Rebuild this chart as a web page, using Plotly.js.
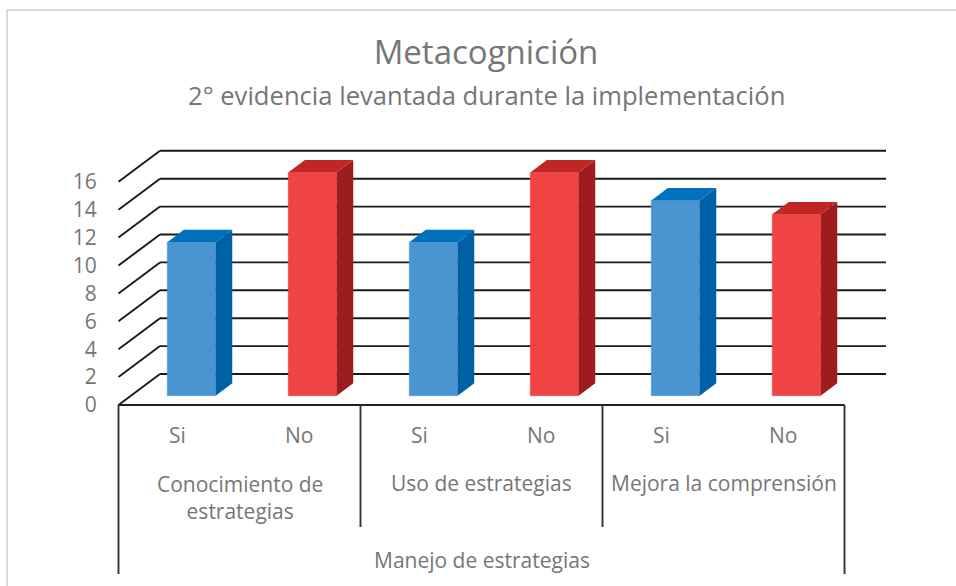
<!DOCTYPE html>
<html><head><meta charset="utf-8">
<script src="https://cdn.plot.ly/plotly-3.0.1.min.js"></script>
<style>html,body{margin:0;padding:0;background:#fff}#c{width:956px;height:586px}</style>
</head><body><div id="c"></div>
<script>
const subLabels = ['Si','No','Si','No','Si','No'];
const values = [11,16,11,16,14,13];
const groupLabels = ['Conocimiento de<br>estrategias','Uso de estrategias','Mejora la comprensión'];
const topLabel = 'Manejo de estrategias';
const yTicks = [0,2,4,6,8,10,12,14,16];
const titleText = 'Metacognición';
const subtitleText = '2° evidencia levantada durante la implementación';

const W=956,H=586,L=112,R=950;
const X0=118.5,CW=121,Y0=405,UY=13.95;
const px=v=>(v-X0)/CW, py=v=>(Y0-v)/UY;
const DX=41.5/CW, DY=31/UY;           // full floor depth in data units
const GAP=0.3, BD=0.4, BW=0.4;        // bar placement within depth / category
const BLUE='#4A94D2',BLUE_T='#0071BC',BLUE_S='#0060A6';
const RED='#F04444',RED_T='#C02626',RED_S='#9C1C1F';
const fronts=values.map((v,i)=>i%2?RED:BLUE);
const centers=values.map((v,i)=>i+0.5+GAP*DX);
const base=GAP*DY;

const shapes=[];
const line=(x0,y0,x1,y1,color,width)=>shapes.push({type:'line',xref:'x',yref:'y',x0,y0,x1,y1,layer:'below',line:{color,width}});
yTicks.forEach(v=>{
  line(0,v,DX,v+DY,'#1a1a1a',1.9);
  line(DX,v+DY,px(886),v+DY,'#1a1a1a',1.9);
});
line(0,0,6,0,'#222',1.9);
[0,2,4,6].forEach(i=>line(i,0,i,py((i===0||i===6)?574:527),'#333',1.9));

const traces=[{
  type:'bar',x:centers,y:values,base:values.map(()=>base),width:values.map(()=>BW),
  marker:{color:fronts,line:{color:fronts,width:0.5}},showlegend:false,hoverinfo:'y'
}];
values.forEach((v,i)=>{
  const xl=centers[i]-BW/2,xr=centers[i]+BW/2,yb=base,yt=base+v,ddx=BD*DX,ddy=BD*DY;
  traces.push({type:'scatter',mode:'lines',x:[xr,xr+ddx,xr+ddx,xr,xr],y:[yb,yb+ddy,yt+ddy,yt,yb],fill:'toself',
    fillcolor:i%2?RED_S:BLUE_S,line:{width:0},showlegend:false,hoverinfo:'skip'});
  traces.push({type:'scatter',mode:'lines',x:[xl,xr,xr+ddx,xl+ddx,xl],y:[yt,yt,yt+ddy,yt+ddy,yt],fill:'toself',
    fillcolor:i%2?RED_T:BLUE_T,line:{width:0},showlegend:false,hoverinfo:'skip'});
});

const GREY='#767676';
const ann=(text,x,pyv,size)=>({text,x,y:py(pyv),xref:'x',yref:'y',showarrow:false,xanchor:'center',yanchor:'middle',
  font:{family:'Open Sans',size,color:GREY},align:'center'});
const annotations=[];
subLabels.forEach((t,i)=>annotations.push(ann(t,i+0.5-0.01,435,21)));
annotations.push(ann(groupLabels[0],1,497.5,21));
annotations.push(ann(groupLabels[1],3,483,21));
annotations.push(ann(groupLabels[2],5,483,21));
annotations.push(ann(topLabel,3,560,21));
annotations.push(ann(subtitleText,px(486),95,25.6));

// chart frame
const pxX=v=>(v-L)/(R-L);
shapes.push({type:'rect',xref:'paper',yref:'paper',x0:pxX(7),x1:pxX(W+20),y0:(H-10)/H,y1:-0.1,layer:'below',fillcolor:'rgba(0,0,0,0)',line:{color:'#DADADA',width:2}});

Plotly.newPlot('c',traces,{
  width:W,height:H,margin:{l:L,r:W-R,t:0,b:0,pad:0},
  paper_bgcolor:'#fff',plot_bgcolor:'rgba(0,0,0,0)',showlegend:false,barmode:'overlay',
  title:{text:titleText,font:{family:'Open Sans',size:33,color:GREY},x:486/W,xanchor:'center',y:1-52/H,yanchor:'middle'},
  xaxis:{range:[px(L),px(R)],visible:false,fixedrange:true},
  yaxis:{range:[py(H),py(0)],tickmode:'array',tickvals:yTicks,ticktext:yTicks.map(String),
    showgrid:false,zeroline:false,showline:false,ticks:'outside',ticklen:10,tickcolor:'rgba(0,0,0,0)',
    tickfont:{family:'Open Sans',size:21,color:GREY},fixedrange:true},
  shapes,annotations
},{displayModeBar:false,staticPlot:true});
</script></body></html>
